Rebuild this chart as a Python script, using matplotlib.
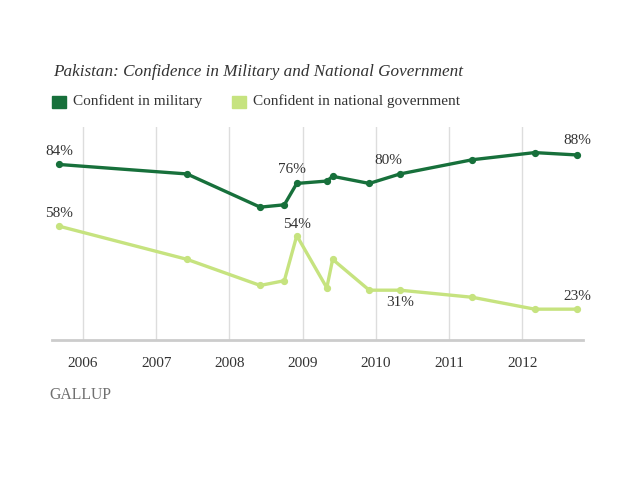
import matplotlib
matplotlib.use("Agg")
import matplotlib.pyplot as plt
from matplotlib.patches import Rectangle

# survey dates as decimal years
survey_dates = [2005.67, 2007.42, 2008.42, 2008.75, 2008.92, 2009.33, 2009.41,
                2009.91, 2010.33, 2011.32, 2012.17, 2012.75]
military = [84, 80, 66, 67, 76, 77, 79, 76, 80, 86, 89, 88]
government = [58, 44, 33, 35, 54, 32, 44, 31, 31, 28, 23, 23]

years = [2006, 2007, 2008, 2009, 2010, 2011, 2012]
year_labels = ["2006", "2007", "2008", "2009", "2010", "2011", "2012"]

title = "Pakistan: Confidence in Military and National Government"
legend_labels = ["Confident in military", "Confident in national government"]

# (index, offset in px) for the value labels
military_notes = [(0, (0, 13)), (4, (-5, 14)), (8, (-12, 13)), (11, (0, 14))]
government_notes = [(0, (0, 13)), (4, (0, 11)), (8, (0, -12)), (11, (0, 13))]

DARK = "#17703b"
LIGHT = "#c6e37f"
SERIF = ["Liberation Serif", "DejaVu Serif"]


def main() -> None:
    plt.rcParams["font.family"] = SERIF
    fig = plt.figure(figsize=(6.4, 4.8), dpi=100)
    fig.patch.set_facecolor("white")

    ax = fig.add_axes([52 / 640, 1 - 340 / 480, 531 / 640, 213.5 / 480])
    ax.set_xlim(2005.576, 2012.83)
    ax.set_ylim(10, 100)

    for y in years:
        ax.axvline(y, color="#dddddd", linewidth=1.0, zorder=0)

    ax.plot(survey_dates, government, color=LIGHT, linewidth=2.4,
            marker="o", markersize=4.2, zorder=3)
    ax.plot(survey_dates, military, color=DARK, linewidth=2.4,
            marker="o", markersize=4.2, zorder=4)

    px = 0.72  # points per pixel at 100 dpi
    for series, notes in ((military, military_notes), (government, government_notes)):
        for i, (dx, dy) in notes:
            ax.annotate(f"{series[i]}%", (survey_dates[i], series[i]),
                        xytext=(dx * px, dy * px), textcoords="offset points",
                        ha="center", va="center", fontsize=11, color="#333333")

    for side in ("top", "left", "right"):
        ax.spines[side].set_visible(False)
    ax.spines["bottom"].set_color("#cccccc")
    ax.spines["bottom"].set_linewidth(2.0)
    ax.set_yticks([])
    ax.set_xticks(years)
    ax.set_xticklabels(year_labels, fontsize=11, color="#333333")
    ax.tick_params(axis="x", length=0, pad=12)

    fig.text(53 / 640, 1 - 72.5 / 480, title, fontsize=12.3, style="italic",
             color="#333333", ha="left", va="center")

    sq_w, sq_h = 14 / 640, 12.5 / 480
    for x0, tx, lab, col in ((51.7, 73, legend_labels[0], DARK),
                              (231.7, 252.7, legend_labels[1], LIGHT)):
        fig.patches.append(Rectangle((x0 / 640, 1 - 108.3 / 480), sq_w, sq_h,
                                     transform=fig.transFigure, color=col))
        fig.text(tx / 640, 1 - 100.7 / 480, lab, fontsize=11, color="#333333",
                 ha="left", va="center")

    fig.text(49 / 640, 1 - 395 / 480, "GALLUP", fontsize=11.3, color="#707070",
             ha="left", va="center")

    fig.savefig("out.png", dpi=100)
    plt.close(fig)


if __name__ == "__main__":
    main()
